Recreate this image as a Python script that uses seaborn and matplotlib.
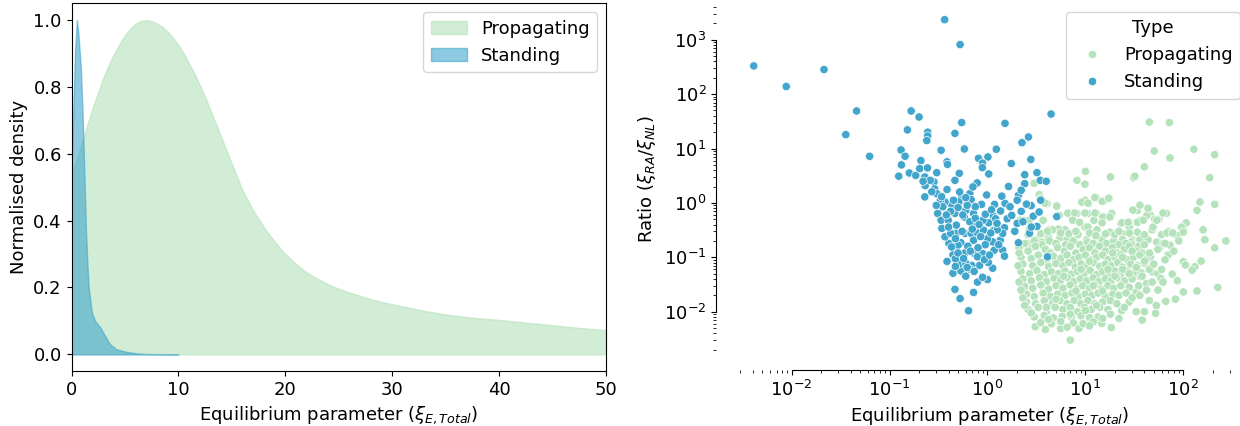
import numpy as np
import pandas as pd
import matplotlib
matplotlib.use("Agg")
import matplotlib.pyplot as plt
import seaborn as sns

plt.rcParams["font.family"] = ["DejaVu Sans"]
plt.rcParams["font.size"] = 13

# --- left panel: normalised density curves ---
prop_curve_x = [0, 0.5, 1, 1.5, 2, 2.5, 3, 3.5, 4, 4.5, 5, 5.5, 6, 6.5, 7, 7.5, 8, 8.5, 9, 9.5,
                10, 10.5, 11, 11.5, 12, 12.5, 13, 13.5, 14, 14.5, 15, 15.5, 16, 16.5, 17, 17.5,
                18, 18.5, 19, 19.5, 20, 21, 22, 23, 24, 25, 26, 27, 28, 29, 30, 31.5, 33, 34.5,
                36, 38, 40, 42.5, 45, 47.5, 50, 55]
prop_curve_y = [0.54, 0.585, 0.635, 0.69, 0.74, 0.785, 0.83, 0.868, 0.90, 0.93, 0.955, 0.975,
                0.99, 0.997, 1.0, 0.997, 0.99, 0.98, 0.965, 0.947, 0.925, 0.9, 0.87, 0.84,
                0.805, 0.77, 0.73, 0.69, 0.65, 0.61, 0.57, 0.53, 0.49, 0.46, 0.43, 0.405,
                0.38, 0.358, 0.338, 0.318, 0.30, 0.27, 0.245, 0.226, 0.21, 0.196, 0.185, 0.175,
                0.165, 0.157, 0.15, 0.14, 0.13, 0.122, 0.115, 0.108, 0.103, 0.095, 0.087, 0.079,
                0.072, 0.06]

stand_curve_x = [0.0, 0.17, 0.33, 0.5, 0.64, 0.86, 1.0, 1.11, 1.25, 1.36, 1.5, 1.6, 1.9,
                 2.2, 2.7, 3.1, 3.6, 4.2, 5.2, 6.1, 7.0, 10.0]
stand_curve_y = [0.56, 0.73, 0.91, 1.0, 0.96, 0.86, 0.75, 0.64, 0.48, 0.36, 0.26, 0.2,
                 0.125, 0.10, 0.08, 0.057, 0.03, 0.015, 0.007, 0.003, 0.001, 0.0]

# --- right panel: scatter points (Equilibrium parameter, Ratio) ---
stand_x = [0.0041, 0.0088, 0.0214, 0.046, 0.0357, 0.0625, 0.365, 0.525, 4.46, 0.166, 0.2, 0.152,
           0.245, 0.245, 0.24, 0.545, 0.465, 1.51, 0.131, 0.144, 0.132, 0.124, 0.159, 0.185,
           0.209, 0.203, 0.244, 0.229, 0.231, 0.229, 0.303, 0.284, 0.289, 0.303, 0.336, 0.386,
           0.39, 0.515, 0.465, 0.58, 0.81, 1.01, 0.89, 0.885, 1.03, 1.23, 1.75, 1.64, 0.785,
           2.25, 2.62, 2.77, 2.4, 3.2, 2.4, 3.46, 3.98, 2.07, 5.1, 4.1, 0.64, 0.525, 0.72,
           0.465, 0.386, 0.444, 0.535, 0.53, 0.79, 1.0, 0.89, 1.13, 1.02, 0.83, 0.69, 0.6,
           0.74, 0.59, 0.444, 0.47, 1.17, 1.43, 1.49, 1.35, 1.13, 0.535, 0.404, 0.368, 0.48,
           0.59, 0.68, 0.79, 0.91, 1.15, 1.49, 2.07, 2.01, 2.69, 3.2, 2.93, 3.37, 2.79, 2.21,
           2.01, 1.51, 1.4, 1.18, 1.15, 1.03, 0.9, 0.76, 0.87, 0.66, 0.71, 0.68, 0.545, 0.51,
           0.43, 0.368, 0.33, 0.31, 0.336, 0.342, 0.397, 0.465, 0.48, 0.58, 0.6, 0.72, 0.52,
           0.386, 0.45, 1.36, 1.21, 1.43, 1.59, 2.8, 1.77, 0.6, 0.67, 0.89, 0.79, 0.5, 0.43,
           0.42, 1.26, 0.72, 1.0, 2.21, 3.49,
           0.35, 0.42, 0.5, 0.56, 0.62, 0.66, 0.75, 0.82, 0.95, 1.1, 1.25, 0.4, 0.47, 0.55,
           0.63, 0.7, 0.85, 0.95, 1.08, 1.3, 0.5, 0.57, 0.67, 0.8, 0.93, 1.05, 0.62, 0.73,
           0.47, 0.38, 0.3, 0.27, 0.34, 0.6, 0.75, 0.98, 1.7, 1.9, 2.3, 2.5, 0.26, 0.22]
stand_y = [330, 138, 283, 49, 18, 7.2, 2340, 815, 43, 49, 38, 22,
           20, 17, 14, 30, 19, 29, 9.4, 7.2, 5.0, 3.1, 3.55, 3.2,
           6.0, 4.27, 4.4, 3.0, 2.08, 1.29, 3.6, 2.43, 1.81, 1.48, 9.3, 5.7,
           5.1, 3.5, 2.6, 9.8, 6.6, 7.0, 5.4, 4.45, 3.4, 9.7, 5.3, 2.0, 2.33,
           12.8, 16.3, 6.3, 3.3, 3.6, 2.26, 2.6, 2.5, 1.38, 0.56, 0.102, 0.0104, 0.0174, 0.0226,
           0.0257, 0.084, 0.051, 0.056, 0.076, 0.035, 0.039, 0.043, 0.063, 0.08, 0.071, 0.071, 0.077,
           0.117, 0.121, 0.111, 0.094, 0.135, 0.135, 0.105, 0.206, 0.192, 0.185, 0.18, 0.238, 0.275,
           0.275, 0.275, 0.28, 0.316, 0.31, 0.35, 0.185, 0.42, 0.277, 0.37, 0.57, 0.68, 0.89, 0.70,
           1.12, 0.98, 1.33, 0.94, 0.57, 0.43, 0.48, 0.39, 0.94, 1.48, 1.97, 1.15, 1.29, 1.04,
           0.94, 1.04, 1.12, 0.64, 0.48, 0.34, 0.48, 0.64, 0.39, 0.55, 0.73, 0.64, 1.59,
           1.76, 1.12, 0.71, 0.51, 0.275, 0.51, 0.36, 0.59, 0.045, 0.06, 0.117, 0.102, 0.167, 0.155,
           0.275, 0.32, 0.206, 0.22, 1.71, 1.12,
           0.85, 0.7, 0.82, 0.6, 0.9, 0.45, 0.52, 0.4, 0.62, 0.75, 0.42, 0.36, 0.22, 0.3,
           0.16, 0.33, 0.24, 0.17, 0.28, 0.17, 0.12, 0.095, 0.13, 0.15, 0.09, 0.11, 0.065, 0.055,
           0.068, 0.6, 0.9, 1.6, 1.3, 1.25, 0.85, 1.4, 0.85, 0.3, 0.45, 0.95, 2.6, 2.5]

# sparse propagating points
prop_sparse_x = [45, 72, 50.5, 73, 128, 209, 186, 40, 31, 32, 10, 9.9, 8.2, 18, 3.0, 148, 138, 209,
                 159, 166, 272, 209, 100, 107, 87, 70, 60, 67, 44, 34, 46, 56, 36.5, 48, 58, 73,
                 70, 46, 100, 131, 123, 152, 225, 138, 100, 83, 66, 53, 40, 38, 33, 28, 23.5,
                 18.4, 14.7, 7.0, 8.6, 5.6, 3.9, 3.07, 36.5, 48, 55, 77, 87, 59, 42, 33, 52, 105,
                 17.6, 15.5, 12.8, 18.6, 9.9, 10.8, 5.1, 5.4, 3.6, 4.06, 3.37, 2.32, 2.07, 2.54,
                 6.7, 8.2, 10.6, 13, 15.5, 12.2, 9.9, 27.5, 23, 28, 24, 19, 30, 5.1, 4.25, 6.2,
                 3.5, 2.67, 2.67,
                 3.5, 3.87, 5.1, 6.6, 7.8, 9.9, 12.5, 7.4, 8.7, 9.2, 10.6, 12.5, 14.8, 17.3, 15.1,
                 17.8, 10.6, 13.1, 14.8, 17.8, 30.5, 36, 42.5, 51, 62, 43.6, 23.6, 27.3, 34, 39,
                 49, 53.5, 68, 78, 96, 100, 24, 29.5, 36, 43.6, 53.5, 62, 5.3, 4.6, 3.7, 4.2, 5.5,
                 6.5, 8.4, 10.3, 14.8, 17.8, 9.2, 13.1, 2.15, 2.9, 3.2, 3.6]
prop_sparse_y = [30.6, 30, 9.0, 6.7, 9.7, 7.7, 2.9, 4.6, 2.9, 3.1, 3.8, 2.2, 2.6, 3.0, 2.3, 1.04, 0.73, 0.94,
                 0.32, 0.21, 0.2, 0.149, 0.32, 0.43, 0.25, 0.3, 0.26, 0.64, 0.75, 0.73, 0.59, 0.5, 0.48, 0.32, 0.155, 0.167,
                 0.11, 0.102, 0.083, 0.067, 0.058, 0.085, 0.028, 0.024, 0.023, 0.017, 0.0155, 0.013, 0.01, 0.007, 0.01, 0.015, 0.0105,
                 0.0051, 0.0061, 0.003, 0.0049, 0.0049, 0.0047, 0.0053, 0.044, 0.054, 0.05, 0.049, 0.037, 0.041, 0.033, 0.023, 0.0093, 0.072,
                 1.2, 1.09, 1.27, 0.64, 1.12, 0.98, 0.9, 0.59, 1.15, 0.97, 1.42, 0.48, 0.156, 0.18,
                 0.64, 0.64, 0.64, 0.64, 0.55, 0.48, 0.36, 0.45, 0.42, 0.36, 0.27, 0.27, 0.21, 0.32, 0.32, 0.32,
                 0.27, 0.32, 0.48,
                 1.2, 0.99, 0.87, 0.65, 0.65, 0.65, 0.65, 0.48, 0.44, 1.03, 0.99, 1.26, 1.07, 1.22, 0.55,
                 0.55, 0.36, 0.32, 0.43, 0.29, 0.74, 0.91, 0.59, 0.5, 0.65, 0.8, 0.43, 0.44, 0.44, 0.48,
                 0.36, 0.48, 0.28, 0.28, 0.36, 0.29, 0.21, 0.19, 0.21, 0.21, 0.19, 0.18, 0.33, 0.32, 0.48, 0.23, 0.23,
                 0.21, 0.26, 0.21, 0.21, 0.18, 0.155, 0.155, 0.48, 0.155, 0.21, 0.19]

# dense propagating cluster, estimated row by row (top to bottom)
prop_dense_x = [2.4, 3.0, 3.6, 4.3, 5.0, 6.3, 7.5, 8.8, 10.5, 12, 16.5, 19.5, 22, 26, 30, 35, 40,
                2.6, 3.5, 4.1, 5.6, 6.8, 8, 11, 12.8, 16, 20, 22, 28, 34, 40,
                2.1, 2.6, 3.1, 3.9, 4.4, 5.2, 6.1, 7.0, 8.0, 9.5, 11, 12.5, 14, 16, 19, 21, 25, 28, 33, 38,
                2.2, 2.8, 3.3, 4.0, 4.7, 5.6, 6.5, 7.5, 8.6, 10, 11.5, 13, 15, 17, 20, 23, 27, 31, 36, 42,
                2.3, 2.9, 3.5, 4.2, 5.0, 5.9, 6.8, 7.9, 9.1, 10.5, 12, 14, 16, 18.5, 21.5, 24, 29, 34, 40, 48,
                2.2, 2.7, 3.2, 3.8, 4.5, 5.3, 6.2, 7.2, 8.3, 9.7, 11.2, 13, 15, 17.5, 20, 23, 27, 31, 37,
                2.3, 2.8, 3.4, 4.0, 4.8, 5.6, 6.6, 7.6, 8.9, 10.3, 12, 13.8, 16, 18.5, 21, 25, 30,
                2.4, 2.9, 3.5, 4.2, 5.0, 5.9, 7.0, 8.1, 9.4, 11, 12.5, 14.5, 17, 19.5, 23, 28,
                2.5, 3.0, 3.7, 4.4, 5.2, 6.2, 7.3, 8.5, 10, 11.7, 13.5, 16, 19, 22,
                2.5, 3.1, 3.8, 4.6, 5.5, 6.5, 7.7, 9.0, 10.6, 12.5, 15, 18,
                2.6, 3.3, 4.0, 4.9, 5.9, 7.0, 8.3, 9.8, 11.5, 14, 17,
                3.0, 3.8, 4.7, 5.8, 7.2, 9.0, 11, 13.5,
                3.5, 4.5, 5.6, 7.5, 9.5, 12,
                24, 28, 33, 38, 45, 40, 50, 60, 65, 35, 42, 48, 26, 30, 21, 25, 36, 55, 62, 45,
                18, 22, 15, 11, 6.5, 4.2, 2.8, 2.4, 2.3, 2.2, 2.1, 2.05, 2.1, 6, 9, 12, 8, 5, 4,
                7, 10, 13, 15, 20, 17, 11, 19, 24, 30, 45, 55, 65, 80, 90]
prop_dense_y = [0.18, 0.2, 0.17, 0.2, 0.18, 0.17, 0.2, 0.17, 0.19, 0.18, 0.18, 0.2, 0.17, 0.18, 0.17, 0.16, 0.17,
                0.26, 0.27, 0.3, 0.28, 0.27, 0.3, 0.28, 0.25, 0.27, 0.26, 0.3, 0.28, 0.29, 0.26,
                0.15, 0.13, 0.16, 0.14, 0.12, 0.15, 0.13, 0.16, 0.12, 0.14, 0.15, 0.12, 0.16, 0.13, 0.15, 0.12, 0.14, 0.16, 0.13, 0.12,
                0.10, 0.095, 0.11, 0.09, 0.105, 0.095, 0.11, 0.09, 0.10, 0.11, 0.09, 0.10, 0.11, 0.09, 0.10, 0.11, 0.09, 0.10, 0.11, 0.09,
                0.075, 0.07, 0.08, 0.068, 0.077, 0.07, 0.08, 0.066, 0.075, 0.07, 0.08, 0.068, 0.075, 0.07, 0.08, 0.066, 0.075, 0.07, 0.078, 0.068,
                0.055, 0.05, 0.057, 0.048, 0.054, 0.05, 0.056, 0.049, 0.055, 0.05, 0.057, 0.048, 0.054, 0.05, 0.056, 0.049, 0.055, 0.05, 0.052,
                0.04, 0.037, 0.042, 0.036, 0.041, 0.038, 0.042, 0.036, 0.04, 0.037, 0.042, 0.036, 0.04, 0.038, 0.042, 0.037, 0.04,
                0.029, 0.027, 0.031, 0.026, 0.03, 0.027, 0.031, 0.026, 0.03, 0.027, 0.031, 0.026, 0.03, 0.027, 0.03, 0.028,
                0.021, 0.019, 0.022, 0.019, 0.021, 0.02, 0.022, 0.019, 0.021, 0.02, 0.022, 0.019, 0.021, 0.02,
                0.015, 0.014, 0.016, 0.014, 0.016, 0.014, 0.016, 0.014, 0.016, 0.014, 0.015, 0.016,
                0.011, 0.012, 0.01, 0.012, 0.011, 0.012, 0.01, 0.012, 0.011, 0.012, 0.011,
                0.008, 0.0085, 0.0077, 0.0082, 0.0078, 0.0084, 0.0078, 0.008,
                0.0063, 0.006, 0.0066, 0.0062, 0.006, 0.0065,
                0.06, 0.05, 0.065, 0.045, 0.06, 0.085, 0.075, 0.06, 0.09, 0.03, 0.025, 0.035, 0.022, 0.018, 0.014, 0.012, 0.02, 0.025, 0.035, 0.016,
                0.009, 0.0075, 0.0075, 0.0055, 0.0052, 0.0072, 0.0095, 0.013, 0.018, 0.025, 0.035, 0.07, 0.12, 0.045, 0.06, 0.03, 0.024, 0.017, 0.012,
                0.009, 0.0105, 0.013, 0.024, 0.045, 0.06, 0.085, 0.12, 0.1, 0.13, 0.12, 0.14, 0.18, 0.13, 0.2]

prop_x = prop_sparse_x + prop_dense_x
prop_y = prop_sparse_y + prop_dense_y

df = pd.DataFrame({
    "eq": prop_x + stand_x,
    "ratio": prop_y + stand_y,
    "Type": ["Propagating"] * len(prop_x) + ["Standing"] * len(stand_x),
})

palette = sns.color_palette("GnBu", 2)

fig = plt.figure(figsize=(12.4, 4.26), dpi=100)
ax1 = fig.add_axes([0.0577, 0.129, 0.431, 0.863])
ax2 = fig.add_axes([0.5887, 0.1643, 0.4185, 0.8286])

# left: density
ax1.fill_between(prop_curve_x, prop_curve_y, color=palette[0], alpha=0.6, lw=1, label="Propagating")
ax1.fill_between(stand_curve_x, stand_curve_y, color=palette[1], alpha=0.6, lw=1, label="Standing")
ax1.set_xlim(0, 50)
ax1.set_ylim(-0.05, 1.05)
ax1.set_xlabel(r"Equilibrium parameter ($\xi_{E,Total}$)")
ax1.set_ylabel("Normalised density")
ax1.legend(loc="upper right")

# right: scatter
sns.scatterplot(data=df, x="eq", y="ratio", hue="Type", hue_order=["Propagating", "Standing"],
                palette=palette, ax=ax2)
ax2.set_xscale("log")
ax2.set_yscale("log")
ax2.set_xlim(10 ** -2.63, 10 ** 2.67)
ax2.set_ylim(10 ** -2.815, 10 ** 3.675)
ax2.set_xlabel(r"Equilibrium parameter ($\xi_{E,Total}$)")
ax2.set_ylabel(r"Ratio ($\xi_{RA}/\xi_{NL}$)")
ax2.legend(title="Type", loc="upper right")
sns.despine(ax=ax2, offset=10, trim=True)

fig.savefig("out.png", dpi=100)
